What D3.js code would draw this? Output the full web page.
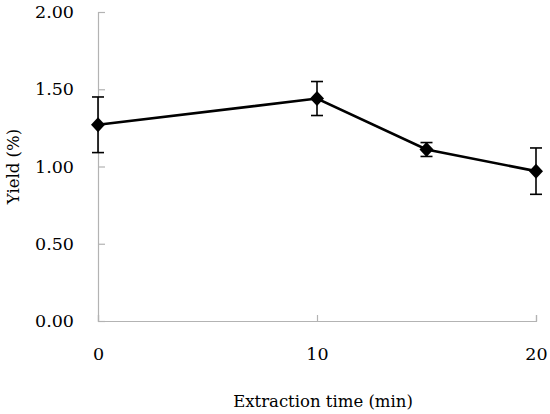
<!DOCTYPE html>
<html>
<head>
<meta charset="utf-8">
<script src="https://cdn.jsdelivr.net/npm/d3@7"></script>
<style>
  body { margin: 0; background: #fff; }
</style>
</head>
<body>
<div id="chart"></div>
<script>
// extraction time (min) vs yield (%), mean ± error
const times  = [0, 10, 15, 20];
const yields = [1.27, 1.44, 1.11, 0.97];
const errors = [0.18, 0.11, 0.045, 0.15];
const xTicks = [0, 10, 20];
const yTicks = [0, 0.5, 1.0, 1.5, 2.0];

// Liberation Serif falls back to a sans face here, so DejaVu Serif goes first
const serif = "'DejaVu Serif', 'Times New Roman', serif";

const width = 550, height = 414;
const m = { top: 12, right: 14, bottom: 93, left: 98 };
const innerW = width - m.left - m.right;
const innerH = height - m.top - m.bottom;

const svg = d3.select("#chart").append("svg")
    .attr("width", width)
    .attr("height", height)
    .attr("font-family", serif);
const plot = svg.append("g").attr("transform", `translate(${m.left},${m.top})`);

const x = d3.scaleLinear().domain([0, 20]).range([0, innerW]);
const y = d3.scaleLinear().domain([0, 2]).range([innerH, 0]);

// axes — grey, ticks pointing into the plot
const axisColor = "#b3b3b3";
const xAxis = plot.append("g")
    .attr("transform", `translate(0,${innerH})`)
    .call(d3.axisBottom(x).tickValues(xTicks).tickSize(-6).tickPadding(27).tickFormat(d3.format("d")));
const yAxis = plot.append("g")
    .call(d3.axisLeft(y).tickValues(yTicks).tickSize(-7).tickPadding(24).tickFormat(d3.format(".2f")));
[xAxis, yAxis].forEach(a => {
    a.attr("font-family", serif).attr("font-size", 17.5);
    a.select(".domain").attr("stroke", axisColor).attr("stroke-width", 1.2);
    a.selectAll(".tick line").attr("stroke", axisColor).attr("stroke-width", 1.2);
    a.selectAll(".tick text").attr("fill", "#000");
});

const data = times.map((t, i) => ({ t, v: yields[i], e: errors[i] }));

// error bars
const eb = plot.append("g").attr("stroke", "#000").attr("stroke-width", 1.6);
data.forEach(d => {
    eb.append("line").attr("x1", x(d.t)).attr("x2", x(d.t))
        .attr("y1", y(d.v + d.e)).attr("y2", y(d.v - d.e));
    [d.v + d.e, d.v - d.e].forEach(val => {
        eb.append("line").attr("x1", x(d.t) - 6).attr("x2", x(d.t) + 6)
            .attr("y1", y(val)).attr("y2", y(val));
    });
});

// line
plot.append("path")
    .datum(data)
    .attr("fill", "none")
    .attr("stroke", "#000")
    .attr("stroke-width", 2.6)
    .attr("d", d3.line().x(d => x(d.t)).y(d => y(d.v)));

// diamond markers
plot.selectAll(".pt").data(data).join("path")
    .attr("class", "pt")
    .attr("transform", d => `translate(${x(d.t)},${y(d.v)})`)
    .attr("d", "M0,-7.5L7,0L0,7.5L-7,0Z")
    .attr("fill", "#000");

// axis titles
svg.append("text")
    .attr("x", m.left + x(10) + 6)
    .attr("y", 407)
    .attr("text-anchor", "middle")
    .attr("font-size", 16.5)
    .text("Extraction time (min)");
svg.append("text")
    .attr("transform", `translate(19,${m.top + y(1.0)}) rotate(-90)`)
    .attr("text-anchor", "middle")
    .attr("font-size", 16.5)
    .text("Yield (%)");
</script>
</body>
</html>
